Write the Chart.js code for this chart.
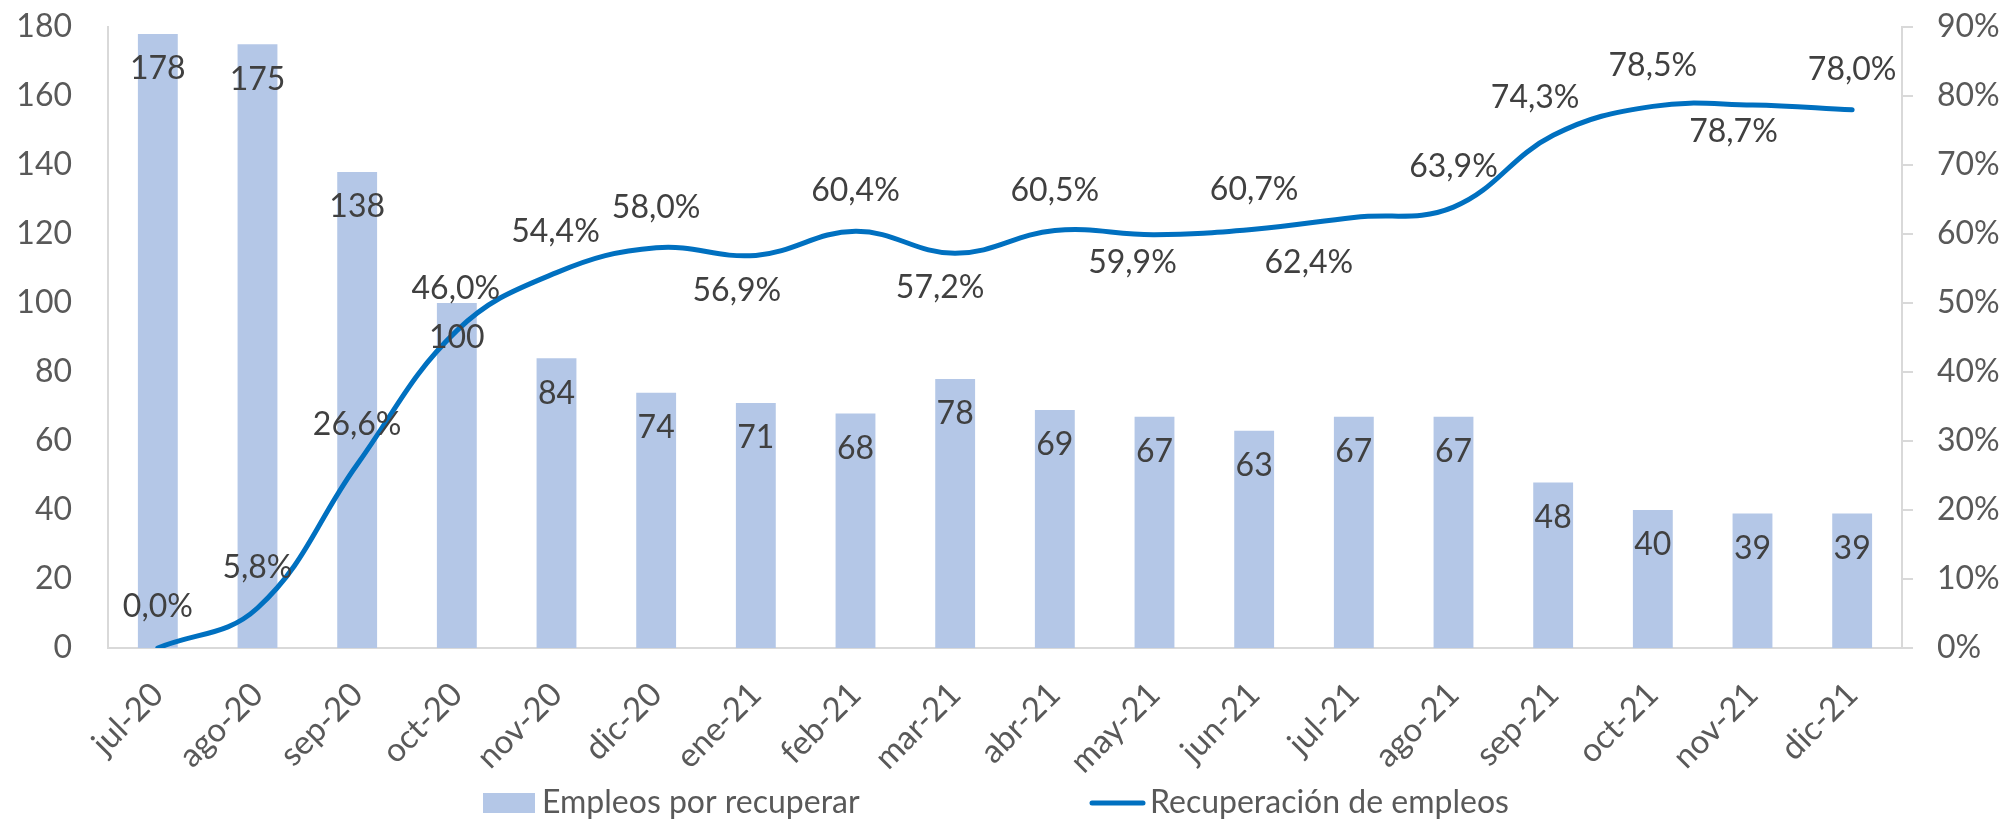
<!DOCTYPE html>
<html>
<head>
<meta charset="utf-8">
<script src="https://cdn.jsdelivr.net/npm/chart.js@4.4.1/dist/chart.umd.min.js"></script>
<style>
  body { margin: 0; background: #fff; }
  #wrap { width: 2006px; height: 819px; }
</style>
</head>
<body>
<div id="wrap"><canvas id="graph" width="2006" height="819"></canvas></div>
<script>
// datos
const meses = ["jul-20", "ago-20", "sep-20", "oct-20", "nov-20", "dic-20", "ene-21", "feb-21", "mar-21",
  "abr-21", "may-21", "jun-21", "jul-21", "ago-21", "sep-21", "oct-21", "nov-21", "dic-21"];
const empleosPorRecuperar = [178, 175, 138, 100, 84, 74, 71, 68, 78, 69, 67, 63, 67, 67, 48, 40, 39, 39];
const recuperacion = [0.0, 5.8, 26.6, 46.0, 54.4, 58.0, 56.9, 60.4, 57.2, 60.5, 59.9, 60.7, 62.4, 63.9, 74.3, 78.5, 78.7, 78.0];
const ticksIzq = [0, 20, 40, 60, 80, 100, 120, 140, 160, 180];
const ticksDer = [0, 10, 20, 30, 40, 50, 60, 70, 80, 90];

// desplazamiento de las etiquetas del porcentaje (como en el excel)
const labelDx = [0, 0, 0, -1, -1, 0, -19, 0, -15, 0, -22, 0, -45, 0, -18, 0, -19, 0];
const labelDy = [-41, -40, -40, -42, -41, -40, 35, -41, 34, -40, 28, -39, 45, -40, -38, -41, 27, -40];

const FONT = "Lato";
const gris = "#d9d9d9";

const etiquetas = {
  id: "etiquetas",
  afterDatasetsDraw(chart) {
    const ctx = chart.ctx;
    ctx.save();
    ctx.font = "32px " + FONT;
    ctx.fillStyle = "#404040";
    ctx.textAlign = "center";
    ctx.textBaseline = "middle";
    chart.getDatasetMeta(0).data.forEach((el, i) => {
      ctx.fillText(String(empleosPorRecuperar[i]), el.x, el.y + 35);
    });
    chart.getDatasetMeta(1).data.forEach((el, i) => {
      let txt = recuperacion[i].toFixed(1).replace(".", ",") + "%";
      ctx.fillText(txt, el.x + labelDx[i], el.y + labelDy[i]);
    });
    ctx.restore();
  },
};

// leyenda abajo
const leyenda = {
  id: "leyenda",
  afterDraw(chart) {
    const ctx = chart.ctx;
    ctx.save();
    ctx.font = "32px " + FONT;
    ctx.textBaseline = "middle";
    ctx.textAlign = "left";
    const y = 803;
    ctx.fillStyle = "#B4C7E7";
    ctx.fillRect(483, y - 10, 52, 20);
    ctx.fillStyle = "#595959";
    ctx.fillText(chart.data.datasets[0].label, 542, y);
    ctx.strokeStyle = "#0070C0";
    ctx.lineWidth = 5;
    ctx.lineCap = "round";
    ctx.beginPath();
    ctx.moveTo(1092, y);
    ctx.lineTo(1143, y);
    ctx.stroke();
    ctx.fillText(chart.data.datasets[1].label, 1150, y);
    ctx.restore();
  },
};

const ctx = document.getElementById("graph").getContext("2d");
const myChart = new Chart(ctx, {
  type: "bar",
  data: {
    labels: meses,
    datasets: [
      {
        type: "bar",
        label: "Empleos por recuperar",
        data: empleosPorRecuperar,
        backgroundColor: "#B4C7E7",
        barPercentage: 0.4,
        categoryPercentage: 1.0,
        yAxisID: "y",
        order: 2,
      },
      {
        type: "line",
        label: "Recuperación de empleos",
        data: recuperacion,
        borderColor: "#0070C0",
        backgroundColor: "#0070C0",
        borderWidth: 5,
        pointRadius: 0,
        tension: 0.4,
        borderCapStyle: "round",
        yAxisID: "y2",
        order: 1,
      },
    ],
  },
  options: {
    responsive: false,
    animation: false,
    layout: { padding: { top: 27, left: 0, right: 0, bottom: 0 } },
    plugins: {
      legend: { display: false },
      tooltip: { enabled: false },
    },
    scales: {
      x: {
        grid: { display: false, drawTicks: false },
        border: { display: true, color: gris, width: 2 },
        ticks: {
          color: "#595959",
          font: { family: FONT, size: 33 },
          minRotation: 45,
          maxRotation: 45,
          padding: 27,
          autoSkip: false,
        },
        afterFit: (s) => { s.height = 171; },
      },
      y: {
        position: "left",
        min: 0,
        max: 180,
        grid: { display: false, drawTicks: false },
        border: { display: true, color: gris, width: 2 },
        afterBuildTicks: (s) => { s.ticks = ticksIzq.map((v) => ({ value: v })); },
        ticks: {
          color: "#595959",
          font: { family: FONT, size: 32 },
          padding: 36,
        },
        afterFit: (s) => { s.width = 108; s.paddingTop = 0; s.paddingBottom = 0; },
      },
      y2: {
        position: "right",
        min: 0,
        max: 90,
        grid: { drawOnChartArea: false, drawTicks: true, tickLength: 11, color: gris, lineWidth: 2 },
        border: { display: true, color: gris, width: 2 },
        afterBuildTicks: (s) => { s.ticks = ticksDer.map((v) => ({ value: v })); },
        ticks: {
          color: "#595959",
          font: { family: FONT, size: 32 },
          padding: 24,
          callback: (v) => v + "%",
        },
        afterFit: (s) => { s.width = 104; s.paddingTop = 0; s.paddingBottom = 0; },
      },
    },
  },
  plugins: [etiquetas, leyenda],
});
</script>
</body>
</html>
